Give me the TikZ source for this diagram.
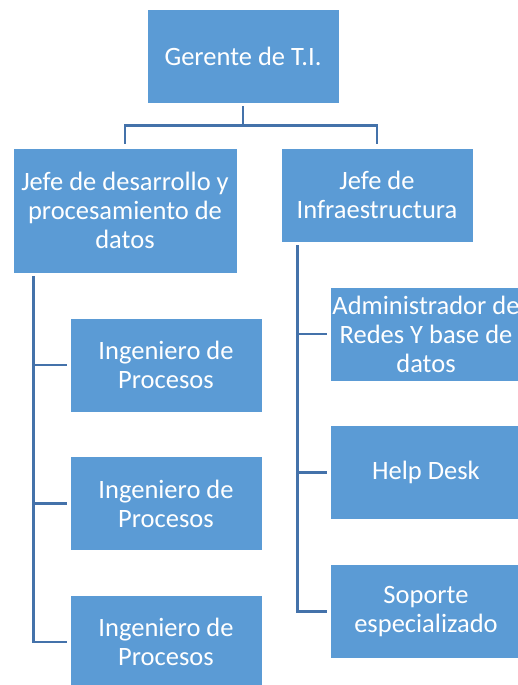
\documentclass[tikz,border=0pt]{standalone}
\usepackage{fontspec}
\setmainfont{Carlito}
\definecolor{boxblue}{HTML}{5B9BD5}
\definecolor{linkblue}{RGB}{68,114,170}
\begin{document}
\begin{tikzpicture}[x=1pt,y=-1pt,
  box/.style={draw=white,line width=0.6pt,fill=boxblue,text=white,align=center,inner sep=0pt,
    font=\fontsize{26.5}{29}\selectfont},
  smallbox/.style={box,minimum width=192pt,minimum height=94pt},
  conn/.style={draw=linkblue,line width=2.6pt}]
\useasboundingbox (0,0) rectangle (518,685);
\clip (0,0) rectangle (518,685);
\node[smallbox] (g) at (243,56) {Gerente de T.I.};
\node[box,minimum width=224pt,minimum height=125pt] (jd) at (125,210.5) {Jefe de desarrollo y\\procesamiento de\\datos};
\node[smallbox] (ji) at (377,195) {Jefe de\\Infraestructura};
\node[smallbox] (i1) at (166,365) {Ingeniero de\\Procesos};
\node[smallbox] (i2) at (166,503.5) {Ingeniero de\\Procesos};
\node[smallbox] (i3) at (166,642) {Ingeniero de\\Procesos};
\node[smallbox] (r1) at (426,334) {Administrador de\\Redes Y base de\\datos};
\node[smallbox] (r2) at (426,472.5) {Help Desk};
\node[smallbox] (r3) at (426,611.5) {Soporte\\especializado};
% top connectors
\draw[conn] ([yshift=-3pt]g.south) -- ++(0,19) coordinate (h) -| ([yshift=4pt]jd.north);
\draw[conn] (h) -| ([yshift=4pt]ji.north);
% left branch
\coordinate (lv) at ([xshift=21pt,yshift=-3pt]jd.south west);
\draw[conn] (lv) |- ([xshift=-3pt]i1.west);
\draw[conn] (lv) |- ([xshift=-3pt]i2.west);
\draw[conn] (lv) |- ([xshift=-3pt]i3.west);
% right branch
\coordinate (rv) at ([xshift=17pt,yshift=-3pt]ji.south west);
\draw[conn] (rv) |- ([xshift=-3pt]r1.west);
\draw[conn] (rv) |- ([xshift=-3pt]r2.west);
\draw[conn] (rv) |- ([xshift=-3pt]r3.west);
\end{tikzpicture}
\end{document}
